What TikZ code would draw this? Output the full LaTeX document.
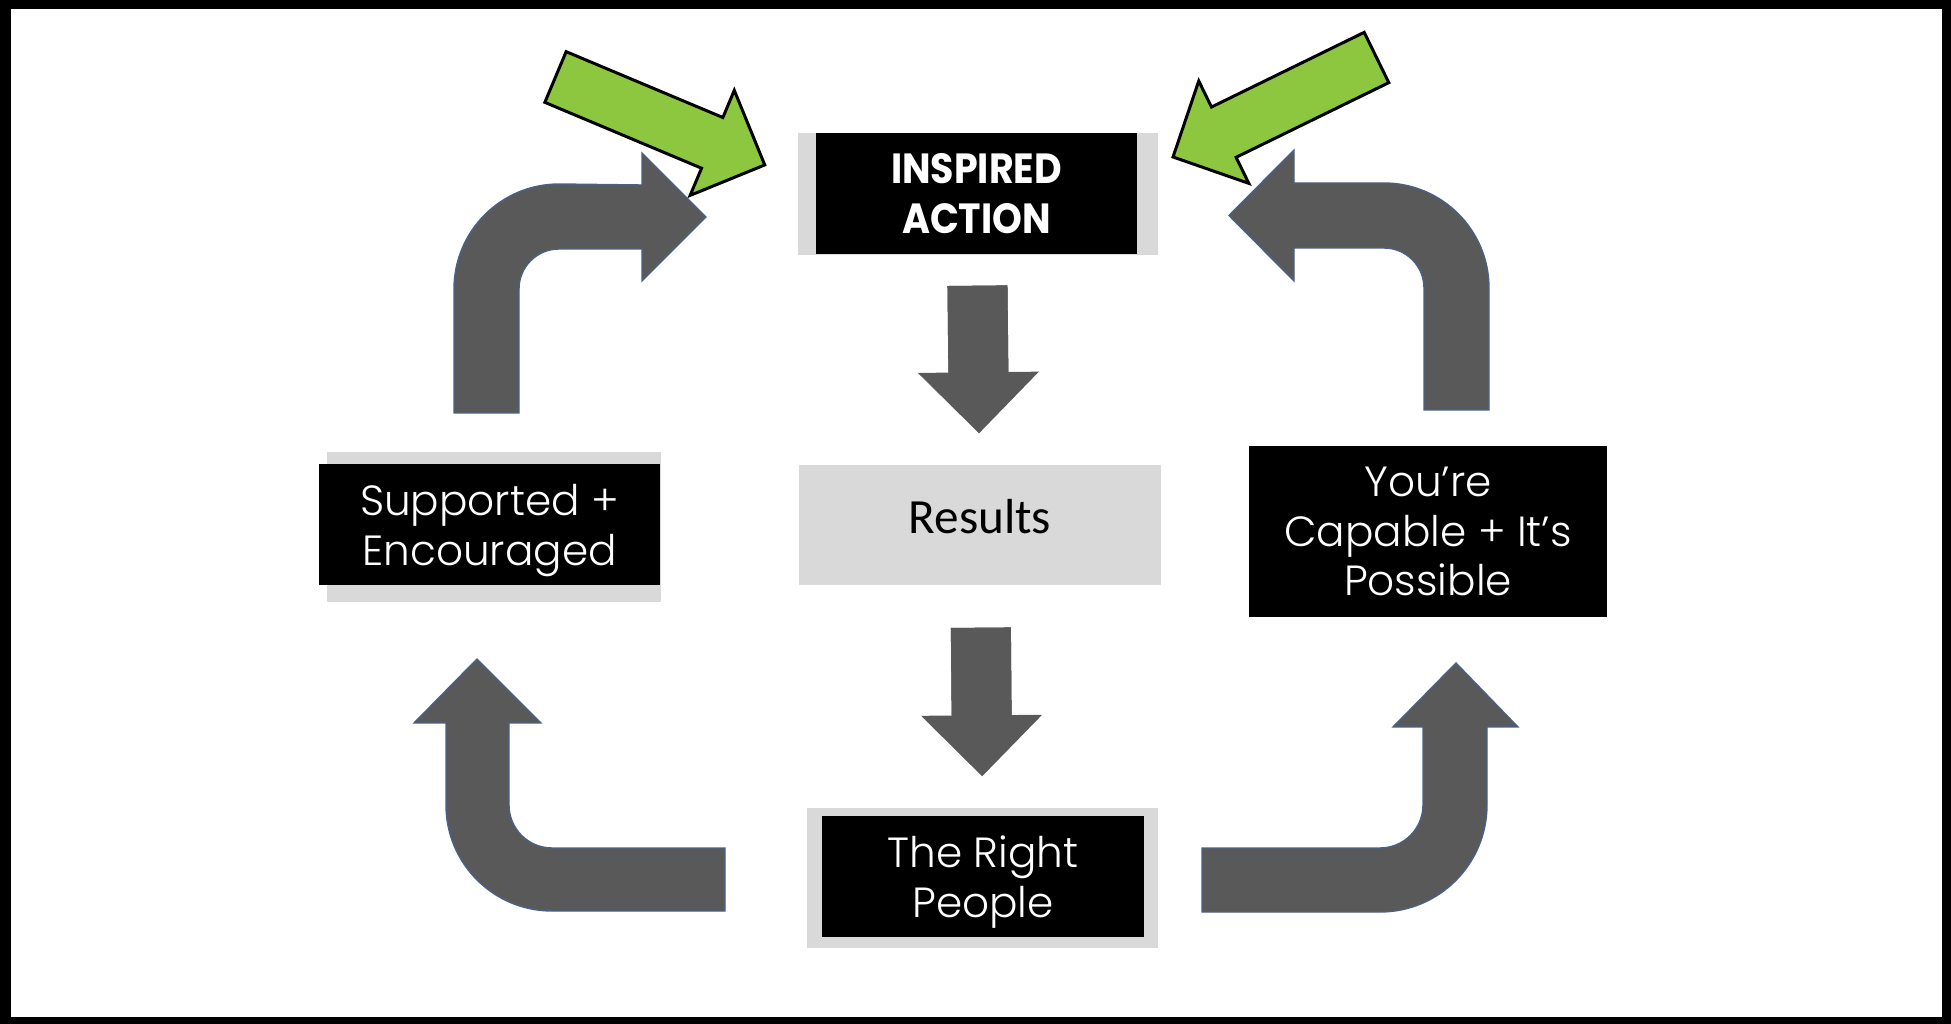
\documentclass[tikz,border=0pt]{standalone}
\usepackage{fontspec}
\setmainfont{Poppins Light}
\newfontfamily\calibri{Carlito}
\newfontfamily\headfont{Poppins}[FakeStretch=0.9]
\usetikzlibrary{arrows.meta}

\definecolor{arrowgrey}{RGB}{89,89,89}
\definecolor{edgeblue}{RGB}{76,96,134}
\definecolor{boxgrey}{RGB}{217,217,217}
\definecolor{leafgreen}{RGB}{141,198,63}

\tikzset{
	blackbox/.style={fill=black, text=white, inner sep=0pt, align=center, font=\fontsize{12}{14.2}\selectfont},
	greybox/.style={fill=boxgrey, inner sep=0pt},
	bent/.style={fill=arrowgrey, draw=edgeblue, line width=0.4pt},
	push/.style={fill=leafgreen, draw=black, line width=0.85pt},
	flow/.style={draw=arrowgrey, line width=6mm, -{Triangle[length=6.1mm, width=12.1mm, line width=0pt]},
		preaction={draw=arrowgrey, line width=6mm, -, shorten >=7mm}}
}

\begin{document}
\begin{tikzpicture}[x=0.1mm, y=0.1mm, yscale=-1]
	\fill[black] (0,0) rectangle (1951,1024);
	\fill[white] (11,9) rectangle (1942,1017);

	\node[greybox, minimum width=36mm, minimum height=12.2mm](inspiredbg) at (978,194) {};
	\node[blackbox, minimum width=32.1mm, minimum height=12.1mm, font=\headfont\bfseries\fontsize{12}{14.2}\selectfont](inspired) at (976.5,193.5) {INSPIRED\\ACTION};

	\node[greybox, minimum width=36.2mm, minimum height=12mm, text depth=5pt, font=\calibri\fontsize{14}{16}\selectfont, text=black](results) at (980,525) {Results};

	\node[greybox, minimum width=33.4mm, minimum height=15mm](supportedbg) at (494,527) {};
	\node[blackbox, minimum width=34.1mm, minimum height=12.1mm, text depth=0pt](supported) at (489.5,524.5) {Supported +\\Encouraged};

	\node[blackbox, minimum width=35.8mm, minimum height=17.1mm](capable) at (1428,531.5) {You’re\\Capable + It’s\\Possible};

	\node[greybox, minimum width=35.1mm, minimum height=14mm](peoplebg) at (982.5,878) {};
	\node[blackbox, minimum width=32.2mm, minimum height=12.1mm, text depth=0pt](people) at (983,876.5) {The Right\\People};

	\draw[flow, shorten <=3.1mm, shorten >=3.1mm](inspired) -- (results);
	\draw[flow, shorten <=4.2mm, shorten >=3.9mm](results) -- (people);

	\filldraw[bent] (454,413) -- (454,289) arc[start angle=180, end angle=270, radius=105] -- (642,185) -- (642,153) -- (706,217) -- (642,281) -- (642,249) -- (559,249) arc[start angle=270, end angle=180, radius=40] -- (519,413) -- cycle;
	\filldraw[bent] (1489,410) -- (1489,288) arc[start angle=0, end angle=-90, radius=105] -- (1294,183) -- (1294,150) -- (1229,215.5) -- (1294,281) -- (1294,248) -- (1384,248) arc[start angle=-90, end angle=0, radius=40] -- (1424,410) -- cycle;
	\filldraw[bent] (725,848) -- (552,848) arc[start angle=90, end angle=180, radius=43] -- (509,723) -- (541,723) -- (477,659) -- (414,723) -- (446,723) -- (446,805) arc[start angle=180, end angle=90, radius=106] -- (725,911) -- cycle;
	\filldraw[bent] (1202,848) -- (1380,848) arc[start angle=90, end angle=0, radius=43] -- (1423,727) -- (1393,727) -- (1456,663) -- (1518,727) -- (1487,727) -- (1487,805) arc[start angle=0, end angle=90, radius=107] -- (1202,912) -- cycle;

	\begin{scope}[shift={(555.5,77)}, rotate=22.8]
		\draw[push] (0,-27.5) -- (170,-27.5) -- (170,-57) -- (227,0) -- (170,57) -- (170,27.5) -- (0,27.5) -- cycle;
	\end{scope}
	\begin{scope}[shift={(1376.5,57.5)}, rotate=153.94]
		\draw[push] (0,-28) -- (170,-28) -- (170,-57) -- (226.5,0) -- (170,57) -- (170,28) -- (0,28) -- cycle;
	\end{scope}
\end{tikzpicture}
\end{document}
